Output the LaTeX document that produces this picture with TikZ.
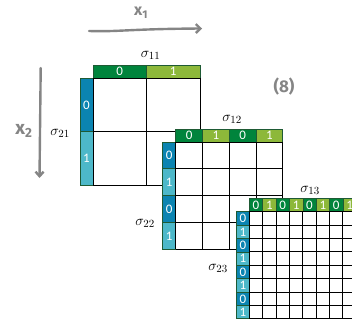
\documentclass[tikz,border=0pt]{standalone}
\usepackage{fontspec}
\newfontfamily\digitfont{Carlito}
\newfontfamily\handfont{Fira Sans}
\usetikzlibrary{arrows.meta}
\definecolor{dgreen}{HTML}{00843C}
\definecolor{lgreen}{HTML}{8DB83A}
\definecolor{dblue}{HTML}{0B84B1}
\definecolor{lblue}{HTML}{4DB8C9}
\definecolor{barborder}{HTML}{1E5A34}
\definecolor{handgray}{HTML}{858585}
\tikzset{
  gridline/.style={draw=black,line width=0.9pt},
  barcell/.style={draw=barborder,line width=0.6pt},
  bit/.style={text=white,font=\digitfont\fontsize{13}{13}\selectfont,inner sep=0pt},
  siglabel/.style={font=\fontsize{15}{15}\selectfont,inner sep=0pt},
  hand/.style={draw=handgray,line width=2.4pt,line cap=round,line join=round},
  handtext/.style={text=handgray,inner sep=0pt}
}
\newcommand\gridblock[4]{%
  \pgfmathsetmacro\cs{107/#3}%
  \fill[white] (#1,#2) rectangle ++(107,107);
  \foreach \i in {1,...,#3}{%
    \pgfmathsetmacro\xa{#1+(\i-1)*\cs}%
    \pgfmathsetmacro\ya{#2+(\i-1)*\cs}%
    \pgfmathtruncatemacro\bitv{mod(\i-1,2)}%
    \ifnum\bitv=0 \def\tc{dgreen}\def\lc{dblue}\else\def\tc{lgreen}\def\lc{lblue}\fi
    \path[barcell,fill=\tc] (\xa,#2-13) rectangle ++(\cs,13);
    \node[bit] (#4t\i) at (\xa+\cs/2,#2-6.3) {\bitv};
    \path[barcell,fill=\lc] (#1-13,\ya) rectangle ++(13,\cs);
    \node[bit] (#4l\i) at (#1-6.5,\ya+\cs/2+0.3) {\bitv};
  }
  \foreach \i in {0,...,#3}{%
    \pgfmathsetmacro\p{\i*\cs}%
    \draw[gridline] (#1+\p,#2) -- (#1+\p,#2+107);
    \draw[gridline] (#1,#2+\p) -- (#1+107,#2+\p);
  }
}
\begin{document}
\begin{tikzpicture}[x=1pt,y=-1pt]
\useasboundingbox (0,0) rectangle (352,320);
\clip (0,0) rectangle (352,320);
% grids
\gridblock{93}{78}{2}{ga}
\gridblock{175.7}{142}{4}{gb}
\gridblock{249.3}{211.7}{8}{gc}
% sigma labels
\node[siglabel] (s11) at (150.7,55) {$\sigma_{11}$};
\node[siglabel] (s12) at (232,119) {$\sigma_{12}$};
\node[siglabel] (s13) at (310,190) {$\sigma_{13}$};
\node[siglabel] (s21) at (60,133) {$\sigma_{21}$};
\node[siglabel] (s22) at (145,223) {$\sigma_{22}$};
\node[siglabel] (s23) at (218,268) {$\sigma_{23}$};
% handwritten annotations
\coordinate (x1s) at (89,31);
\coordinate (x1e) at (202,28.5);
\draw[hand,-{Straight Barb[length=4.5pt,width=9pt]}] (x1s) .. controls (118,32) and (128,29) .. (x1e);
\node[handtext,font=\handfont\bfseries\fontsize{16}{16}\selectfont] (x1lab) at (141,13) {x\textsubscript{1}};
\coordinate (x2s) at (40.7,68);
\coordinate (x2e) at (39.5,178);
\draw[hand,-{Straight Barb[length=4.5pt,width=8pt]}] (x2s) -- (x2e);
\node[handtext,font=\handfont\bfseries\fontsize{19}{19}\selectfont] (x2lab) at (24,131) {x\textsubscript{2}};
\node[handtext,font=\handfont\bfseries\fontsize{17}{17}\selectfont] (eq8) at (284,87) {(8)};
\end{tikzpicture}
\end{document}
